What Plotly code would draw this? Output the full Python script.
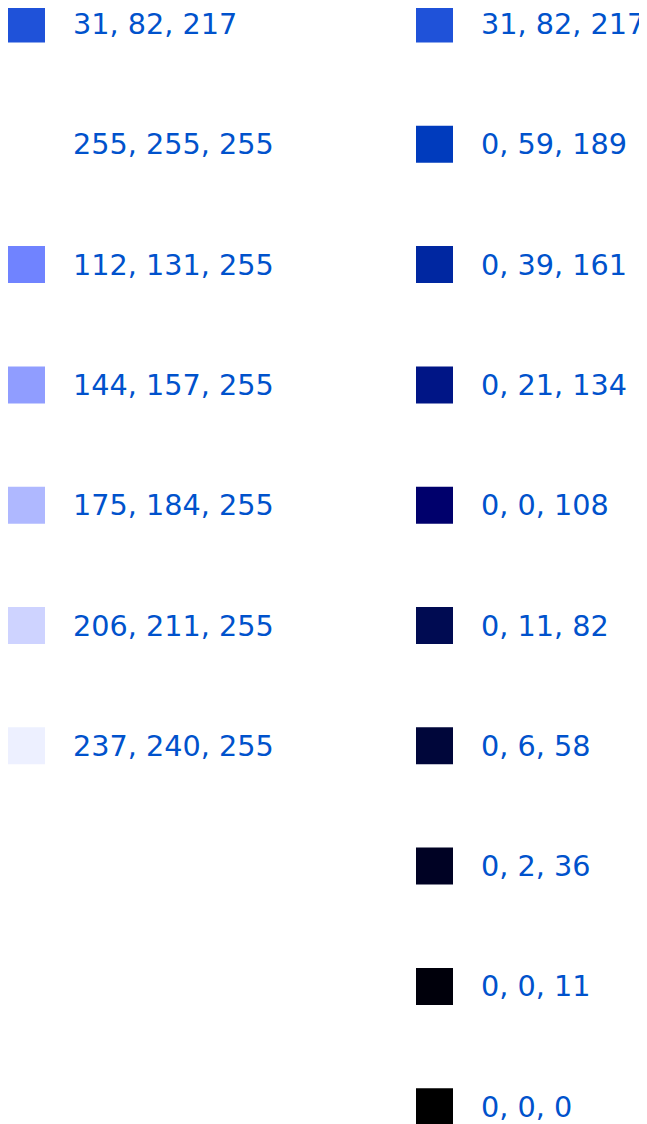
import plotly.graph_objects as go

left_colors = [(31, 82, 217), (255, 255, 255), (112, 131, 255), (144, 157, 255),
               (175, 184, 255), (206, 211, 255), (237, 240, 255)]
right_colors = [(31, 82, 217), (0, 59, 189), (0, 39, 161), (0, 21, 134), (0, 0, 108),
                (0, 11, 82), (0, 6, 58), (0, 2, 36), (0, 0, 11), (0, 0, 0)]
columns = [left_colors, right_colors]

TEXT_COLOR = "#0052cc"

fig = go.Figure()
annotations = []
for ci, cols in enumerate(columns):
    xs = [ci] * len(cols)
    ys = list(range(len(cols)))
    fills = [f"rgb({r},{g},{b})" for r, g, b in cols]
    labels = [f"{r}, {g}, {b}" for r, g, b in cols]
    fig.add_trace(go.Scatter(
        x=xs, y=ys, mode="markers",
        marker=dict(symbol="square", size=37, color=fills, line=dict(width=0)),
        hoverinfo="skip", showlegend=False))
    for x, y, t in zip(xs, ys, labels):
        annotations.append(dict(x=x, y=y, text=t, showarrow=False, xanchor="left",
                                yanchor="middle", xshift=44,
                                font=dict(family="DejaVu Sans", size=28.7, color=TEXT_COLOR)))

W, H = 639, 1116
COL_PX, ROW_PX = 408, 120.3
x0 = -18.5 / COL_PX
y0 = -16 / ROW_PX
fig.update_layout(
    width=W, height=H,
    margin=dict(l=0, r=0, t=0, b=0),
    paper_bgcolor="white", plot_bgcolor="white",
    xaxis=dict(range=[x0, x0 + W / COL_PX], visible=False, fixedrange=True),
    yaxis=dict(range=[y0 + H / ROW_PX, y0], visible=False, fixedrange=True),
    annotations=annotations,
)
fig.write_html("out.html")
